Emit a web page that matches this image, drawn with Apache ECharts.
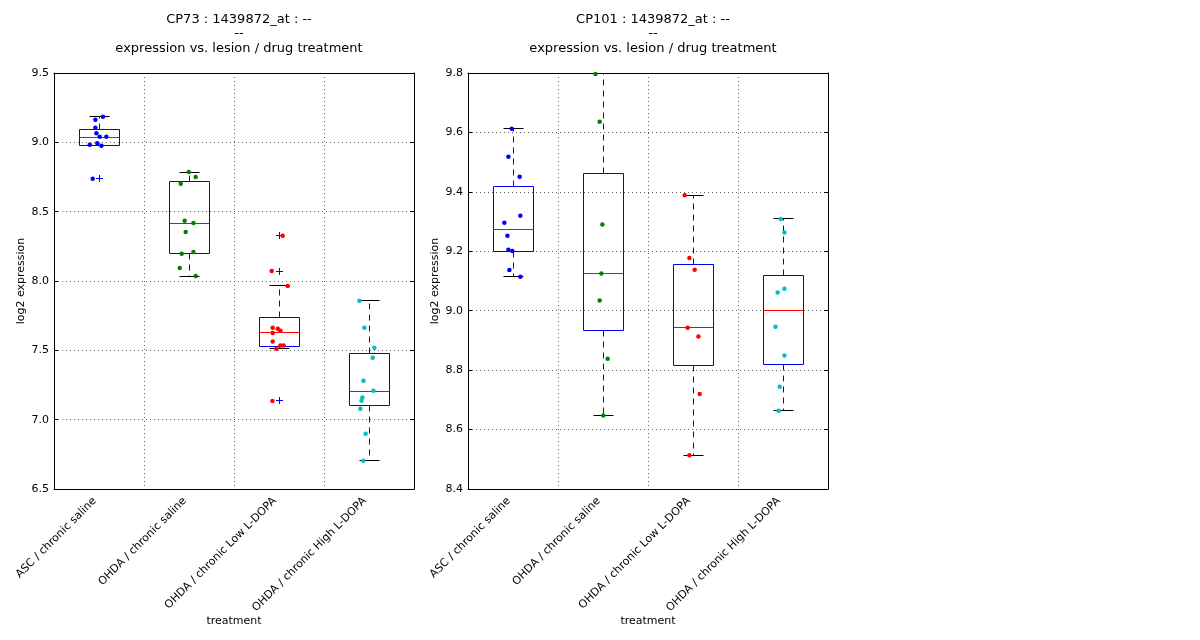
<!DOCTYPE html>
<html><head><meta charset="utf-8">
<script src="https://cdn.jsdelivr.net/npm/echarts@6/dist/echarts.min.js"></script>
<style>html,body{margin:0;padding:0;background:#fff}#c{width:1200px;height:640px}</style>
</head><body><div id="c"></div>
<script>
const categories = ['ASC / chronic saline','OHDA / chronic saline','OHDA / chronic Low L-DOPA','OHDA / chronic High L-DOPA'];
const groupColors = ['#0000ff','#008000','#ff0000','#00bfbf'];

// CP73 panel
const cp73Title = 'CP73 : 1439872_at : --\n--\nexpression vs. lesion / drug treatment';
const cp73Ticks = [6.5, 9.5, 0.5];
const cp73_asc    = [9.185, 9.163, 9.106, 9.065, 9.041, 9.041, 8.983, 8.993, 8.976, 8.738];
const cp73_saline = [8.786, 8.75, 8.702, 8.435, 8.418, 8.353, 8.197, 8.209, 8.094, 8.036];
const cp73_low    = [8.327, 8.072, 7.964, 7.663, 7.656, 7.642, 7.625, 7.563, 7.534, 7.534, 7.512, 7.135];
const cp73_high   = [7.858, 7.663, 7.519, 7.447, 7.281, 7.209, 7.159, 7.137, 7.079, 6.899, 6.704];
const cp73_jitter = [
  [0.044, -0.04, -0.04, -0.029, 0.008, 0.082, -0.103, -0.018, 0.027, -0.07],
  [-0.003, 0.074, -0.092, -0.048, 0.049, -0.037, -0.081, 0.049, -0.103, 0.074],
  [0.041, -0.081, 0.097, -0.07, -0.014, 0.016, -0.07, -0.07, 0.016, 0.052, -0.029, -0.073],
  [-0.107, -0.051, 0.06, 0.041, -0.062, 0.049, -0.073, -0.084, -0.096, -0.037, -0.062]
];
// [low whisker, Q1, median, Q3, high whisker]
const cp73_boxes = [
  [8.976, 8.979, 9.036, 9.094, 9.185],
  [8.036, 8.2, 8.416, 8.719, 8.786],
  [7.512, 7.529, 7.63, 7.738, 7.964],
  [6.704, 7.104, 7.205, 7.479, 7.858]
];

// CP101 panel
const cp101Title = 'CP101 : 1439872_at : --\n--\nexpression vs. lesion / drug treatment';
const cp101Ticks = [8.4, 9.8, 0.2];
const cp101_asc    = [9.612, 9.518, 9.451, 9.320, 9.296, 9.252, 9.205, 9.201, 9.137, 9.114];
const cp101_saline = [9.797, 9.636, 9.29, 9.125, 9.034, 8.838, 8.647];
const cp101_low    = [9.389, 9.177, 9.138, 8.943, 8.913, 8.72, 8.514];
const cp101_high   = [9.309, 9.263, 9.074, 9.061, 8.946, 8.849, 8.744, 8.663];
const cp101_jitter = [
  [-0.014, -0.051, 0.074, 0.082, -0.096, -0.062, -0.051, -0.007, -0.04, 0.082],
  [-0.084, -0.037, -0.007, -0.018, -0.037, 0.052, 0.004],
  [-0.092, -0.04, 0.019, -0.059, 0.06, 0.074, -0.04],
  [-0.026, 0.016, 0.016, -0.059, -0.084, 0.016, -0.037, -0.048]
];
const cp101_boxes = [
  [9.114, 9.2, 9.274, 9.417, 9.612],
  [8.647, 8.935, 9.124, 9.462, 9.797],
  [8.514, 8.814, 8.942, 9.156, 9.389],
  [8.663, 8.820, 9.001, 9.119, 9.309]
];

const panels = [
  {title: cp73Title, ticks: cp73Ticks, groups: [cp73_asc, cp73_saline, cp73_low, cp73_high], jitter: cp73_jitter, boxes: cp73_boxes, left: 54},
  {title: cp101Title, ticks: cp101Ticks, groups: [cp101_asc, cp101_saline, cp101_low, cp101_high], jitter: cp101_jitter, boxes: cp101_boxes, left: 468}
];

const FONT = 'DejaVu Sans';
const W = 360, TOP = 73, BOTTOM = 151;
const option = {animation: false, backgroundColor: '#fff', title: [], grid: [], xAxis: [], yAxis: [], series: []};
const gridLine = {show: true, lineStyle: {color: '#666', width: 1, type: [1, 3]}};
const snap = v => Math.round(v - 0.5) + 0.5;

panels.forEach((p, g) => {
  option.title.push({text: p.title, left: p.left + W / 2, top: 7, textAlign: 'center',
    textStyle: {fontFamily: FONT, fontSize: 13, fontWeight: 'normal', color: '#000', lineHeight: 14.5}});
  option.grid.push({left: p.left, width: W, top: TOP, bottom: BOTTOM, containLabel: false});
  option.xAxis.push({type: 'category', gridIndex: g, position: 'bottom', data: categories, boundaryGap: true,
    axisLine: {onZero: false, lineStyle: {color: '#000', width: 1}},
    axisTick: {inside: true, length: 4, lineStyle: {color: '#000'}},
    splitLine: gridLine,
    axisLabel: {rotate: 45, interval: 0, margin: 6, padding: [0, 6, 0, 0], fontFamily: FONT, fontSize: 11, color: '#000'},
    name: 'treatment', nameLocation: 'middle', nameGap: 127, nameMoveOverlap: false,
    nameTextStyle: {fontFamily: FONT, fontSize: 11, color: '#000'}});
  option.xAxis.push({type: 'category', gridIndex: g, position: 'top', data: categories, boundaryGap: true,
    axisLine: {onZero: false, lineStyle: {color: '#000', width: 1}},
    axisTick: {inside: true, length: 4, lineStyle: {color: '#000'}},
    axisLabel: {show: false}, splitLine: {show: false}});
  const xv = option.xAxis.length;
  option.xAxis.push({type: 'value', gridIndex: g, min: -0.5, max: 3.5, show: false,
    axisLine: {onZero: false}, splitLine: {show: false}});
  const yl = option.yAxis.length;
  const [mn, mx, iv] = p.ticks;
  option.yAxis.push({type: 'value', gridIndex: g, position: 'left', min: mn, max: mx, interval: iv,
    axisLine: {show: true, onZero: false, lineStyle: {color: '#000'}},
    axisTick: {show: true, inside: true, length: 4, lineStyle: {color: '#000'}},
    splitLine: gridLine,
    axisLabel: {margin: 5, fontFamily: FONT, fontSize: 11, color: '#000', formatter: v => v.toFixed(1)},
    name: 'log2 expression', nameLocation: 'middle', nameGap: 27, nameMoveOverlap: false,
    nameTextStyle: {fontFamily: FONT, fontSize: 11, color: '#000'}});
  option.yAxis.push({type: 'value', gridIndex: g, position: 'right', min: mn, max: mx, interval: iv,
    axisLine: {show: true, onZero: false, lineStyle: {color: '#000'}},
    axisTick: {show: true, inside: true, length: 4, lineStyle: {color: '#000'}},
    axisLabel: {show: false}, splitLine: {show: false}});

  // boxes
  option.series.push({type: 'custom', xAxisIndex: xv, yAxisIndex: yl, z: 3, clip: false,
    data: p.boxes.map((b, i) => [i].concat(b)),
    renderItem: (params, api) => {
      const i = api.value(0);
      const x = snap(api.coord([i, 0])[0]);
      const band = api.size([1, 0])[0];
      const bw = Math.round(band * 0.444), cw = Math.round(bw / 2);
      const y = k => snap(api.coord([i, api.value(k)])[1]);
      const lo = y(1), q1 = y(2), med = y(3), q3 = y(4), hi = y(5);
      const bl = x - bw / 2, br = x + bw / 2;
      const blue = {stroke: '#0000ff', lineWidth: 1, fill: null};
      const dash = {stroke: '#0000ff', lineWidth: 1, lineDash: [6, 5], fill: null};
      return {type: 'group', children: [
        {type: 'line', shape: {x1: x, y1: q3, x2: x, y2: hi}, style: dash},
        {type: 'line', shape: {x1: x, y1: q1, x2: x, y2: lo}, style: dash},
        {type: 'line', shape: {x1: x - cw / 2, y1: hi, x2: x + cw / 2, y2: hi}, style: {stroke: '#000', lineWidth: 1}},
        {type: 'line', shape: {x1: x - cw / 2, y1: lo, x2: x + cw / 2, y2: lo}, style: {stroke: '#000', lineWidth: 1}},
        {type: 'rect', shape: {x: bl, y: q3, width: bw, height: q1 - q3}, style: blue},
        {type: 'line', shape: {x1: bl, y1: med, x2: br, y2: med}, style: {stroke: '#ff0000', lineWidth: 1}}
      ]};
    }});

  // fliers ('+') for values beyond whiskers
  const fliers = [];
  p.groups.forEach((vals, i) => vals.forEach(v => {
    if (v > p.boxes[i][4] + 1e-9 || v < p.boxes[i][0] - 1e-9) fliers.push([i, v]);
  }));
  option.series.push({type: 'custom', xAxisIndex: xv, yAxisIndex: yl, z: 4, data: fliers,
    renderItem: (params, api) => {
      const pt = api.coord([api.value(0), api.value(1)]);
      const cx = snap(pt[0]), cy = snap(pt[1]);
      const s = 3.5;
      return {type: 'group', children: [
        {type: 'line', shape: {x1: cx - s, y1: cy, x2: cx + s, y2: cy}, style: {stroke: '#0000ff', lineWidth: 1}},
        {type: 'line', shape: {x1: cx, y1: cy - s, x2: cx, y2: cy + s}, style: {stroke: '#0000ff', lineWidth: 1}}
      ]};
    }});

  // jittered points
  p.groups.forEach((vals, i) => {
    option.series.push({type: 'scatter', xAxisIndex: xv, yAxisIndex: yl, z: 5, symbol: 'circle', symbolSize: 4.5,
      itemStyle: {color: groupColors[i], opacity: 1},
      data: vals.map((v, k) => [i + p.jitter[i][k], v])});
  });
});

echarts.init(document.getElementById('c'), null, {renderer: 'canvas'}).setOption(option);
</script>
</body></html>
